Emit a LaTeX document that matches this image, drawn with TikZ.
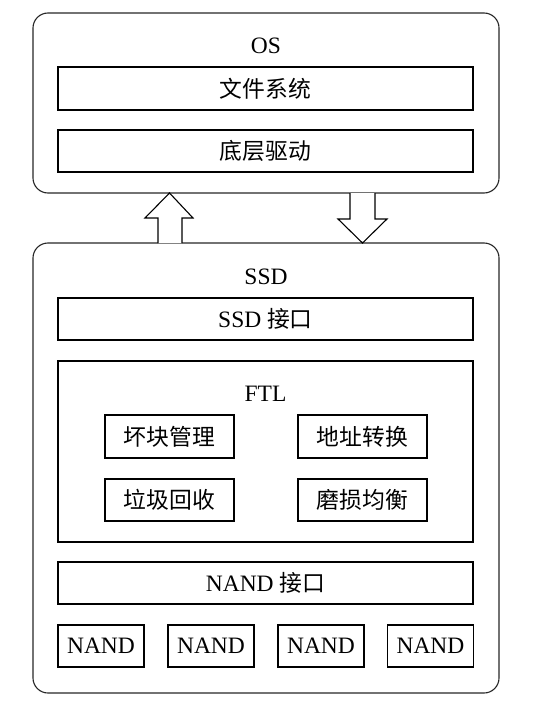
\documentclass[tikz,border=0pt]{standalone}
\usepackage{fontspec}
\setmainfont{Liberation Serif}
\newfontfamily\cjk{Noto Sans CJK SC}[Scale=0.97]
\begin{document}
\begin{tikzpicture}[x=1pt,y=-1pt,
  outerbox/.style={draw=black!85,line width=1.1pt,rounded corners=15pt,inner sep=0pt},
  bar/.style={draw,line width=1.4pt,inner sep=0pt,minimum width=415pt,font=\fontsize{23.5}{26}\selectfont},
  small/.style={draw,line width=1.4pt,inner sep=0pt,minimum width=129pt,minimum height=43pt,font=\fontsize{23.5}{26}\selectfont},
  nand/.style={draw,line width=1.4pt,inner sep=0pt,minimum width=86pt,minimum height=42pt,font=\fontsize{23.5}{26}\selectfont},
  lbl/.style={font=\fontsize{23.5}{26}\selectfont,inner sep=0pt},
  blockarrow/.style={draw,line width=1.1pt,fill=white,line join=miter}]
\useasboundingbox (0,0) rectangle (535,706);
% OS
\node[outerbox,minimum width=466pt,minimum height=180pt] (os) at (266,103) {};
\node[lbl] (oslbl) at (266,46) {OS};
\node[bar,minimum height=43pt] (fs) at (265.5,88.5) {\cjk 文件系统};
\node[bar,minimum height=42pt] (drv) at (265.5,151) {\cjk 底层驱动};
% SSD
\node[outerbox,minimum width=466pt,minimum height=450pt] (ssd) at (266,468) {};
\node[lbl] (ssdlbl) at (266,277) {SSD};
\node[bar,minimum height=42pt] (ssdif) at (265.5,319) {SSD {\cjk 接口}};
\node[bar,minimum height=181pt] (ftl) at (265.5,451.5) {};
\node[lbl] (ftllbl) at (265.5,394) {FTL};
\node[small] (bad) at (169.5,436.5) {\cjk 坏块管理};
\node[small] (addr) at (362.5,436.5) {\cjk 地址转换};
\node[small,minimum height=42pt] (gc) at (169.5,500) {\cjk 垃圾回收};
\node[small,minimum height=42pt] (wear) at (362.5,500) {\cjk 磨损均衡};
\node[bar,minimum height=42pt] (nandif) at (265.5,583) {NAND {\cjk 接口}};
\node[nand] (n1) at (101,646) {NAND};
\node[nand] (n2) at (211,646) {NAND};
\node[nand] (n3) at (321,646) {NAND};
\node[nand] (n4) at (430.5,646) {NAND};
% block arrows between os and ssd
\draw[blockarrow] (158,243) -- (158,218) -- (145,218) -- (169.5,193) -- (193,218) -- (182,218) -- (182,243);
\draw[blockarrow] (350,193) -- (350,219) -- (338,219) -- (362.5,243) -- (387,219) -- (375,219) -- (375,193);
\end{tikzpicture}
\end{document}
